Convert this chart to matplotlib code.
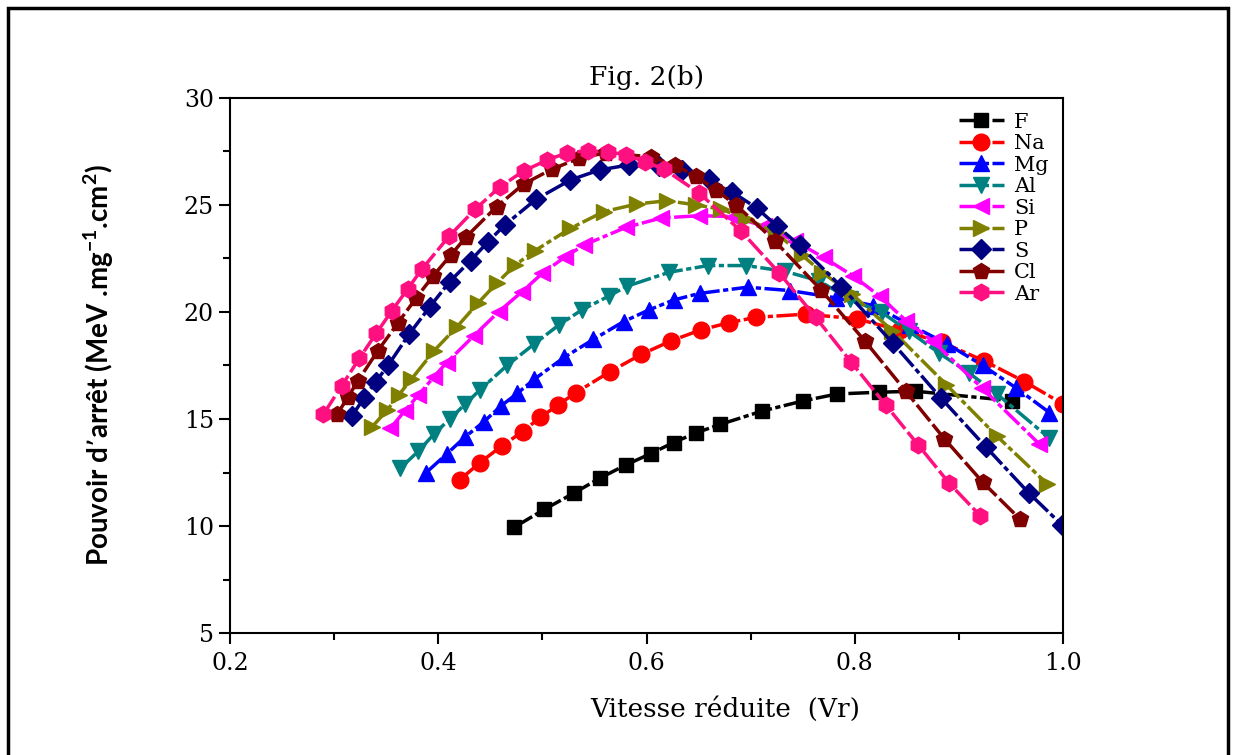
import matplotlib
matplotlib.use("Agg")
import matplotlib.pyplot as plt
from matplotlib.patches import Rectangle
from matplotlib.ticker import MultipleLocator

# data: reduced velocity (Vr) vs stopping power
vr_F = [0.473, 0.502, 0.530, 0.555, 0.580, 0.604, 0.626, 0.648, 0.671, 0.711,
        0.750, 0.783, 0.823, 0.858, 0.951]
sp_F = [9.94, 10.78, 11.53, 12.23, 12.85, 13.38, 13.90, 14.36, 14.75, 15.37,
        15.84, 16.17, 16.25, 16.30, 15.85]

vr_Na = [0.4205, 0.440, 0.461, 0.481, 0.498, 0.515, 0.532, 0.565, 0.595, 0.624,
         0.652, 0.679, 0.705, 0.753, 0.802, 0.843, 0.884, 0.924, 0.963, 1.000]
sp_Na = [12.15, 12.96, 13.74, 14.41, 15.08, 15.65, 16.23, 17.21, 18.02, 18.66,
         19.16, 19.50, 19.75, 19.90, 19.68, 19.15, 18.58, 17.72, 16.75, 15.70]

vr_Mg = [0.3885, 0.408, 0.426, 0.444, 0.460, 0.476, 0.492, 0.521, 0.549, 0.578,
         0.602, 0.626, 0.651, 0.697, 0.738, 0.782, 0.818, 0.853, 0.889, 0.923,
         0.955, 0.987]
sp_Mg = [12.50, 13.36, 14.17, 14.88, 15.60, 16.20, 16.85, 17.88, 18.72, 19.55,
         20.09, 20.56, 20.87, 21.16, 21.00, 20.66, 20.30, 19.40, 18.50, 17.50,
         16.45, 15.30]

vr_Al = [0.3635, 0.381, 0.396, 0.411, 0.426, 0.440, 0.466, 0.492, 0.516, 0.538,
         0.564, 0.581, 0.622, 0.659, 0.696, 0.733, 0.766, 0.795, 0.826, 0.852,
         0.881, 0.910, 0.937, 0.987]
sp_Al = [12.70, 13.50, 14.30, 15.00, 15.70, 16.36, 17.50, 18.50, 19.40, 20.10,
         20.75, 21.20, 21.86, 22.17, 22.17, 21.90, 21.45, 20.60, 19.98, 19.10,
         18.08, 17.14, 16.15, 14.10]

vr_Si = [0.354, 0.368, 0.381, 0.3955, 0.408, 0.434, 0.458, 0.4805, 0.500, 0.522,
         0.540, 0.580, 0.614, 0.650, 0.683, 0.713, 0.743, 0.770, 0.798, 0.824,
         0.849, 0.875, 0.922, 0.977]
sp_Si = [14.56, 15.39, 16.12, 16.95, 17.63, 18.88, 20.01, 20.95, 21.81, 22.58,
         23.13, 23.95, 24.39, 24.50, 24.46, 24.00, 23.30, 22.55, 21.70, 20.74,
         19.60, 18.63, 16.46, 13.84]

vr_P = [0.336, 0.351, 0.362, 0.374, 0.396, 0.418, 0.438, 0.456, 0.474, 0.493,
        0.527, 0.559, 0.591, 0.620, 0.648, 0.672, 0.696, 0.724, 0.749, 0.769,
        0.797, 0.836, 0.888, 0.9365, 0.985]
sp_P = [14.61, 15.42, 16.12, 16.85, 18.19, 19.31, 20.41, 21.34, 22.20, 22.87,
        23.91, 24.69, 25.05, 25.20, 25.00, 24.80, 24.35, 23.72, 22.67, 21.84,
        20.85, 19.13, 16.60, 14.20, 11.96]

vr_S = [0.317, 0.329, 0.340, 0.352, 0.372, 0.392, 0.411, 0.431, 0.448, 0.464,
        0.494, 0.527, 0.555, 0.583, 0.612, 0.634, 0.660, 0.682, 0.706, 0.725,
        0.747, 0.787, 0.8365, 0.8826, 0.926, 0.967, 0.999]
sp_S = [15.14, 16.00, 16.74, 17.52, 18.96, 20.25, 21.42, 22.40, 23.29, 24.07,
        25.27, 26.17, 26.64, 26.87, 26.80, 26.62, 26.20, 25.62, 24.85, 24.03,
        23.11, 21.19, 18.55, 15.99, 13.69, 11.55, 10.05]

vr_Cl = [0.303, 0.313, 0.323, 0.342, 0.361, 0.379, 0.395, 0.412, 0.427, 0.456,
         0.482, 0.509, 0.535, 0.561, 0.604, 0.627, 0.648, 0.667, 0.686, 0.723,
         0.768, 0.810, 0.849, 0.886, 0.923, 0.9585]
sp_Cl = [15.22, 16.01, 16.79, 18.19, 19.47, 20.67, 21.68, 22.66, 23.52, 24.92,
         25.98, 26.67, 27.18, 27.44, 27.25, 26.86, 26.34, 25.68, 25.00, 23.33,
         21.01, 18.63, 16.30, 14.08, 12.04, 10.33]

vr_Ar = [0.2897, 0.3074, 0.3243, 0.3404, 0.3555, 0.3705, 0.3843, 0.4106, 0.4356,
         0.4596, 0.482, 0.5045, 0.5238, 0.5436, 0.5628, 0.5805, 0.5984, 0.6166,
         0.6503, 0.6904, 0.7272, 0.7625, 0.7962, 0.8298, 0.8609, 0.8907, 0.9205]
sp_Ar = [15.22, 16.56, 17.84, 19.00, 20.06, 21.07, 22.00, 23.55, 24.81,
         25.86, 26.59, 27.10, 27.44, 27.54, 27.48, 27.35, 27.02, 26.68,
         25.57, 23.80, 21.84, 19.75, 17.68, 15.65, 13.79, 12.00, 10.48]

names = ['F', 'Na', 'Mg', 'Al', 'Si', 'P', 'S', 'Cl', 'Ar']
vr = [vr_F, vr_Na, vr_Mg, vr_Al, vr_Si, vr_P, vr_S, vr_Cl, vr_Ar]
sp = [sp_F, sp_Na, sp_Mg, sp_Al, sp_Si, sp_P, sp_S, sp_Cl, sp_Ar]

colors = ['#000000', '#FF0000', '#0000FF', '#008080', '#FF00FF',
          '#808000', '#000080', '#800000', '#FF1080']
markers = ['s', 'o', '^', 'v', '<', '>', 'D', 'p', 'h']
msizes = [10, 12, 12, 12, 12, 12, 10, 12, 12]
dashes = [(6, 1, 1.5, 1)] * 7 + [(6, 1.2)] * 2

plt.rcParams['font.family'] = 'DejaVu Serif'

fig = plt.figure(figsize=(12.34, 7.55), dpi=100)
ax = fig.add_axes([230 / 1234, 1 - 633 / 755, 833 / 1234, 535 / 755])

for i in range(len(names)):
    ax.plot(vr[i], sp[i], color=colors[i], marker=markers[i], ms=msizes[i],
            lw=2.5, dashes=dashes[i], label=names[i], mec=colors[i])

ax.set_xlim(0.2, 1.0)
ax.set_ylim(5, 30)
ax.xaxis.set_major_locator(MultipleLocator(0.2))
ax.xaxis.set_minor_locator(MultipleLocator(0.1))
ax.yaxis.set_major_locator(MultipleLocator(5))
ax.yaxis.set_minor_locator(MultipleLocator(2.5))
ax.xaxis.set_major_formatter(matplotlib.ticker.FormatStrFormatter('%.1f'))
ax.tick_params(which='major', direction='out', length=8, width=1.5,
               labelsize=17)
ax.tick_params(which='minor', direction='out', length=5, width=1.5)
ax.tick_params(axis='x', pad=6)
for s in ax.spines.values():
    s.set_linewidth(1.5)

ax.set_title('Fig. 2(b)', fontsize=19, pad=9)
ax.set_xlabel('Vitesse réduite  (Vr)', fontsize=19)
ax.xaxis.set_label_coords(0.595, -0.118)
ax.set_ylabel(r'Pouvoir d’arrêt (MeV .mg$^{\mathregular{-1}}$.cm$^{\mathregular{2}}$)',
              family='Lato', fontweight='bold', fontsize=20)
ax.yaxis.set_label_coords(-0.137, 0.5)

leg = ax.legend(loc='upper right', frameon=False, fontsize=15,
                handlelength=2.16, labelspacing=0.12, handletextpad=0.5,
                borderaxespad=0.3, bbox_to_anchor=(1.0, 1.0))

fig.patches.append(Rectangle((8 / 1234, -0.05), 1220 / 1234, 1.05 - 8 / 755,
                             transform=fig.transFigure, fill=False,
                             edgecolor='black', lw=2.5))

fig.savefig('out.png', dpi=100)
